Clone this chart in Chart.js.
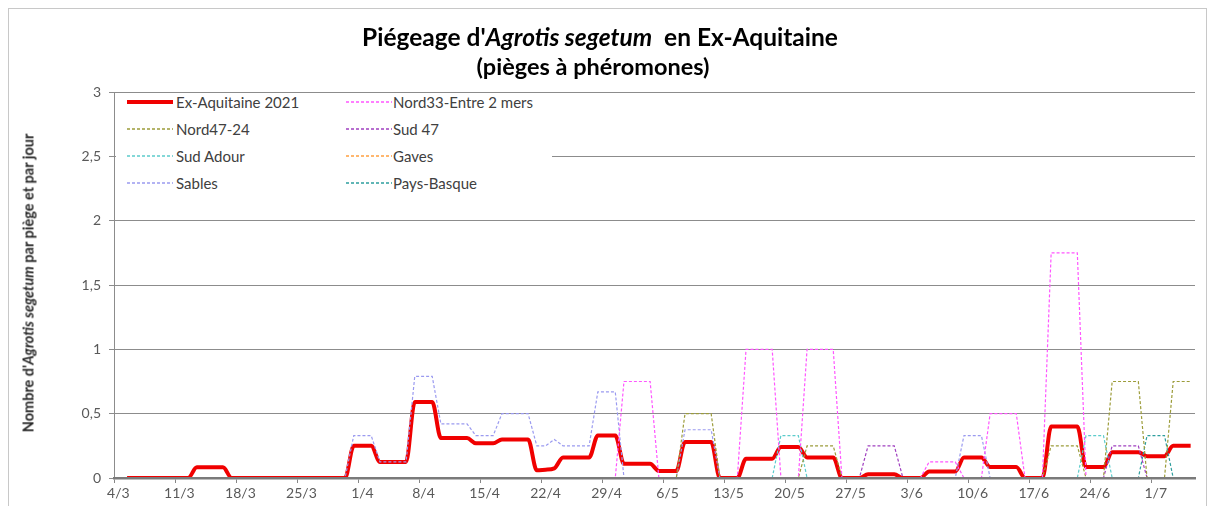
<!DOCTYPE html>
<html>
<head>
<meta charset="utf-8">
<script src="https://cdn.jsdelivr.net/npm/chart.js@4.4.0/dist/chart.umd.min.js"></script>
<style>
html,body{margin:0;padding:0;background:#fff;}
#wrap{position:relative;width:1215px;height:506px;overflow:hidden;font-family:Lato,"Liberation Sans",sans-serif;}
#frame{position:absolute;left:8px;top:8px;width:1199px;height:540px;border:1px solid #c8c8c8;box-sizing:border-box;}
#c{position:absolute;left:0;top:0;}
#title{position:absolute;left:0;width:1200px;top:22px;text-align:center;font-weight:bold;font-size:24.5px;color:#000;line-height:30px;}
#subtitle{position:absolute;left:0;width:1186px;top:52px;text-align:center;font-weight:bold;font-size:23.5px;color:#000;line-height:28px;}
#ytitle{position:absolute;left:28px;top:283px;transform:translate(-50%,-50%) rotate(-90deg);white-space:nowrap;font-weight:bold;font-size:14.5px;color:#262626;}
#legend{position:absolute;left:116px;top:93px;width:436px;height:114px;background:#fff;}
.it{position:absolute;font-size:15px;color:#404040;white-space:nowrap;line-height:18px;}
.ln{position:absolute;width:46px;height:8px;overflow:visible;}
</style>
</head>
<body>
<div id="wrap">
  <div id="frame"></div>
  <canvas id="c" width="1215" height="506"></canvas>
  <div id="title">Piégeage d'<i>Agrotis segetum</i>&nbsp; en Ex-Aquitaine</div>
  <div id="subtitle">(pièges à phéromones)</div>
  <div id="ytitle">Nombre d'<i>Agrotis segetum</i> par piège et par jour</div>
  <div id="legend"></div>
</div>
<script>
// ---- data ----
const startDate = [2021, 2, 4]; // 4 March 2021
const nDays = 124;
const tickLabels = ['4/3','11/3','18/3','25/3','1/4','8/4','15/4','22/4','29/4','6/5','13/5','20/5','27/5','3/6','10/6','17/6','24/6','1/7'];
const seriesNames = ['Ex-Aquitaine 2021','Nord33-Entre 2 mers','Nord47-24','Sud 47','Sud Adour','Gaves','Sables','Pays-Basque'];

const exAquitaine = [
 null,0,0,0,0,0,0,0,0,0.083,
 0.083,0.083,0.083,0,0,0,0,0,0,0,
 0,0,0,0,0,0,0,0.25,0.25,0.25,
 0.125,0.125,0.125,0.125,0.59,0.59,0.59,0.31,0.31,0.31,
 0.31,0.27,0.27,0.27,0.30,0.30,0.30,0.30,0.06,0.065,
 0.075,0.16,0.16,0.16,0.16,0.33,0.33,0.33,0.11,0.11,
 0.11,0.11,0.055,0.055,0.055,0.28,0.28,0.28,0.28,0,
 0,0,0.15,0.15,0.15,0.15,0.24,0.24,0.24,0.16,
 0.16,0.16,0.16,0,0,0,0.03,0.03,0.03,0.03,
 0,0,0,0.05,0.05,0.05,0.05,0.16,0.16,0.16,
 0.085,0.085,0.085,0.085,0,0,0,0.40,0.40,0.40,
 0.40,0.085,0.085,0.085,0.20,0.20,0.20,0.20,0.17,0.17,
 0.17,0.25,0.25,0.25
];
const nord33 = [
 null,0,0,0,0,0,0,0,0,0,
 0,0,0,0,0,0,0,0,0,0,
 0,0,0,0,0,0,0,0,0,0,
 0,0,0,0,0,0,0,0,0,0,
 0,0,0,0,0,0,0,0,0,0,
 0,0,0,0,0,0,0,0,0.75,0.75,
 0.75,0.75,0,0,0,0,0,0,0,0,
 0,0,1,1,1,1,0,0,0,1,
 1,1,1,0,0,0,0,0,0,0,
 0,0,0,0.125,0.125,0.125,0.125,0,0,0,
 0.5,0.5,0.5,0.5,0,0,0,1.75,1.75,1.75,
 1.75,0,0,0,0,0,0,0,0,0,
 0,0,0,0
];
const nord47 = [
 null,0,0,0,0,0,0,0,0,0,
 0,0,0,0,0,0,0,0,0,0,
 0,0,0,0,0,0,0,0,0,0,
 0,0,0,0,0,0,0,0,0,0,
 0,0,0,0,0,0,0,0,0,0,
 0,0,0,0,0,0,0,0,0,0,
 0,0,0,0,0,0.5,0.5,0.5,0.5,0,
 0,0,0,0,0,0,0,0,0,0.25,
 0.25,0.25,0.25,0,0,0,0,0,0,0,
 0,0,0,0,0,0,0,0,0,0,
 0,0,0,0,0,0,0,0.25,0.25,0.25,
 0.25,0,0,0,0.75,0.75,0.75,0.75,0,0,
 0,0.75,0.75,0.75
];
const sud47 = [
 null,0,0,0,0,0,0,0,0,0,
 0,0,0,0,0,0,0,0,0,0,
 0,0,0,0,0,0,0,0,0,0,
 0,0,0,0,0,0,0,0,0,0,
 0,0,0,0,0,0,0,0,0,0,
 0,0,0,0,0,0,0,0,0,0,
 0,0,0,0,0,0,0,0,0,0,
 0,0,0,0,0,0,0,0,0,0,
 0,0,0,0,0,0,0.25,0.25,0.25,0.25,
 0,0,0,0,0,0,0,0,0,0,
 0,0,0,0,0,0,0,0,0,0,
 0,0,0,0,0.25,0.25,0.25,0.25,0,0,
 0,0,0,0
];
const sudAdour = [
 null,0,0,0,0,0,0,0,0,0,
 0,0,0,0,0,0,0,0,0,0,
 0,0,0,0,0,0,0,0,0,0,
 0,0,0,0,0,0,0,0,0,0,
 0,0,0,0,0,0,0,0,0,0,
 0,0,0,0,0,0,0,0,0,0,
 0,0,0,0,0,0,0,0,0,0,
 0,0,0,0,0,0,0.33,0.33,0.33,0,
 0,0,0,0,0,0,0,0,0,0,
 0,0,0,0,0,0,0,0,0,0,
 0,0,0,0,0,0,0,0,0,0,
 0,0.33,0.33,0.33,0,0,0,0,0,0,
 0,0,0,0
];
const gaves = [
 null,0,0,0,0,0,0,0,0,0,
 0,0,0,0,0,0,0,0,0,0,
 0,0,0,0,0,0,0,0,0,0,
 0,0,0,0,0,0,0,0,0,0,
 0,0,0,0,0,0,0,0,0,0,
 0,0,0,0,0,0,0,0,0,0,
 0,0,0,0,0,0,0,0,0,0,
 0,0,0,0,0,0,0,0,0,0,
 0,0,0,0,0,0,0,0,0,0,
 0,0,0,0,0,0,0,0,0,0,
 0,0,0,0,0,0,0,0,0,0,
 0,0,0,0,0,0,0,0,0,0,
 0,0,0,0
];
const sables = [
 null,0,0,0,0,0,0,0,0,0,
 0,0,0,0,0,0,0,0,0,0,
 0,0,0,0,0,0,0,0.33,0.33,0.33,
 0.125,0.125,0.125,0.125,0.79,0.79,0.79,0.42,0.42,0.42,
 0.42,0.33,0.33,0.33,0.5,0.5,0.5,0.5,0.25,0.25,
 0.3,0.25,0.25,0.25,0.25,0.67,0.67,0.67,0,0,
 0,0,0,0,0,0.375,0.375,0.375,0.375,0,
 0,0,0,0,0,0,0,0,0,0,
 0,0,0,0,0,0,0,0,0,0,
 0,0,0,0,0,0,0,0.33,0.33,0.33,
 0,0,0,0,0,0,0,0,0,0,
 0,0,0,0,0,0,0,0,0,0,
 0,0,0,0
];
const paysBasque = [
 null,0,0,0,0,0,0,0,0,0,
 0,0,0,0,0,0,0,0,0,0,
 0,0,0,0,0,0,0,0,0,0,
 0,0,0,0,0,0,0,0,0,0,
 0,0,0,0,0,0,0,0,0,0,
 0,0,0,0,0,0,0,0,0,0,
 0,0,0,0,0,0,0,0,0,0,
 0,0,0,0,0,0,0,0,0,0,
 0,0,0,0,0,0,0,0,0,0,
 0,0,0,0,0,0,0,0,0,0,
 0,0,0,0,0,0,0,0,0,0,
 0,0,0,0,0,0,0,0,0.33,0.33,
 0.33,0,0,0
];

// categories: one per day
const categories = [];
for (let i = 0; i < nDays; i++) {
  const d = new Date(startDate[0], startDate[1], startDate[2] + i);
  categories.push(d.getDate() + '/' + (d.getMonth() + 1));
}

// ---- styles ----
const colors = ['#F00000','#FF55FF','#9C9C3A','#A040C0','#5CCCCC','#FFA040','#9A9AF0','#2E9E9E'];
const values = [exAquitaine, nord33, nord47, sud47, sudAdour, gaves, sables, paysBasque];

const datasets = values.map((v, k) => {
  if (k === 0) {
    return {label: seriesNames[k], data: v, borderColor: colors[k], borderWidth: 4,
      cubicInterpolationMode: 'monotone', pointRadius: 0, order: 1, clip: 0};
  }
  return {label: seriesNames[k], data: v, borderColor: colors[k], borderWidth: 1.2,
    borderDash: [3, 2], tension: 0, pointRadius: 0, order: 0};
});

Chart.defaults.font.family = 'Lato, "Liberation Sans", sans-serif';

new Chart(document.getElementById('c'), {
  type: 'line',
  data: {labels: categories, datasets: datasets},
  options: {
    responsive: false,
    animation: false,
    layout: {padding: {left: 0, right: 20, top: 92, bottom: 0}},
    plugins: {legend: {display: false}, tooltip: {enabled: false}, title: {display: false}},
    scales: {
      x: {
        type: 'category',
        offset: true,
        grid: {offset: true, drawOnChartArea: false, drawTicks: true, tickLength: 5,
          tickColor: (c) => (c.index % 7 === 0 ? '#868686' : 'rgba(0,0,0,0)')},
        border: {color: '#7a7a7a', width: 2.5, z: 1},
        ticks: {autoSkip: false, maxRotation: 0, minRotation: 0, padding: 2, color: '#595959',
          font: {size: 14},
          callback: (v, i) => (i % 7 === 0 && tickLabels[i / 7] !== undefined ? tickLabels[i / 7] : '')},
        afterFit: (s) => { s.height = 28; }
      },
      y: {
        min: 0, max: 3,
        ticks: {stepSize: 0.5, padding: 8, color: '#595959', font: {size: 14},
          callback: (v) => String(v).replace('.', ',')},
        grid: {color: '#8c8c8c', lineWidth: 1, tickLength: 5, tickColor: '#8c8c8c'},
        border: {color: '#8c8c8c', width: 1},
        afterFit: (s) => { s.width = 114; }
      }
    }
  }
});

// ---- legend (HTML + SVG samples) ----
const SVGNS = 'http://www.w3.org/2000/svg';
const legend = document.getElementById('legend');
const rowsY = [0, 27, 54, 81];
const colLineX = [11, 230];
const colTextX = [60, 277];
seriesNames.forEach((name, k) => {
  const col = k % 2, row = Math.floor(k / 2);
  const svg = document.createElementNS(SVGNS, 'svg');
  svg.setAttribute('class', 'ln');
  svg.setAttribute('width', '46');
  svg.setAttribute('height', '8');
  svg.style.left = colLineX[col] + 'px';
  svg.style.top = (rowsY[row] + 5) + 'px';
  const line = document.createElementNS(SVGNS, 'line');
  line.setAttribute('x1', '0'); line.setAttribute('x2', '46');
  line.setAttribute('y1', '4'); line.setAttribute('y2', '4');
  line.setAttribute('stroke', colors[k]);
  if (k === 0) {
    line.setAttribute('stroke-width', '4');
  } else {
    line.setAttribute('stroke-width', '1.3');
    line.setAttribute('stroke-dasharray', '3 2');
  }
  svg.appendChild(line);
  legend.appendChild(svg);
  const t = document.createElement('div');
  t.className = 'it';
  t.style.left = colTextX[col] + 'px';
  t.style.top = rowsY[row] + 'px';
  t.textContent = name;
  legend.appendChild(t);
});
</script>
</body>
</html>
